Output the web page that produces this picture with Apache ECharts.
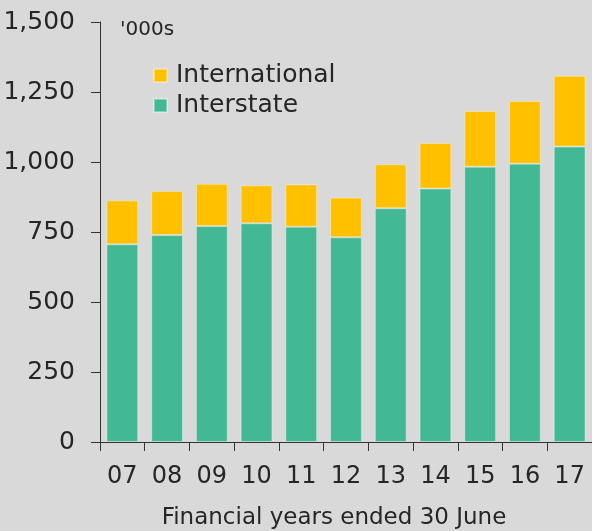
<!DOCTYPE html>
<html>
<head>
<meta charset="utf-8">
<script src="https://cdn.jsdelivr.net/npm/echarts@6/dist/echarts.min.js"></script>
<style>
  html, body { margin: 0; padding: 0; background: #d9d9d9; }
  #main { width: 592px; height: 531px; }
</style>
</head>
<body>
<div id="main"></div>
<script>
var years = ['07', '08', '09', '10', '11', '12', '13', '14', '15', '16', '17'];
var interstate = [706, 739, 771, 781, 769, 731, 835, 905, 983, 994, 1055];
var international = [157, 157, 151, 136, 151, 142, 157, 163, 199, 224, 253];
var yTicks = [0, 250, 500, 750, 1000, 1250, 1500];

var font = 'DejaVu Sans';
var txt = '#262626';

var myChart = echarts.init(document.getElementById('main'));

var option = {
    backgroundColor: '#d9d9d9',
    animation: false,
    textStyle: { fontFamily: font, color: txt },
    grid: { left: 100, top: 22, width: 496, height: 420 },
    legend: {
        orient: 'vertical',
        left: 148,
        top: 58,
        itemWidth: 13,
        itemHeight: 13,
        itemGap: 5,
        icon: 'rect',
        data: ['International', 'Interstate'],
        textStyle: { fontFamily: font, fontSize: 25, color: txt, lineHeight: 25, padding: [0, 0, 0, 4] }
    },
    graphic: [
        { type: 'text', left: 120, top: 20, style: { text: "'000s", font: '20px ' + font, fill: txt } },
        { type: 'text', x: 334, y: 518, style: { text: 'Financial years ended 30 June', font: '23px ' + font, fill: txt, align: 'center', verticalAlign: 'middle' } }
    ],
    xAxis: {
        type: 'category',
        data: years,
        axisLine: { lineStyle: { color: '#333', width: 1 } },
        axisTick: { show: true, length: 9, lineStyle: { color: '#333' } },
        axisLabel: { fontSize: 24, color: txt, margin: 23, fontFamily: font }
    },
    yAxis: {
        type: 'value',
        min: 0,
        max: 1500,
        interval: 250,
        splitLine: { show: false },
        axisLine: { show: true, lineStyle: { color: '#333', width: 1 } },
        axisTick: { show: true, length: 9, lineStyle: { color: '#333' } },
        axisLabel: {
            fontSize: 25, color: txt, margin: 25, fontFamily: font,
            formatter: function (v) { return yTicks.indexOf(v) >= 0 ? v.toLocaleString('en-US') : ''; }
        }
    },
    series: [
        {
            name: 'Interstate',
            type: 'bar',
            stack: 'total',
            barCategoryGap: '29%',
            data: interstate,
            itemStyle: { color: '#42b895', borderColor: 'rgba(255,255,255,0.35)', borderWidth: 1 }
        },
        {
            name: 'International',
            type: 'bar',
            stack: 'total',
            barCategoryGap: '29%',
            data: international,
            itemStyle: { color: '#ffc000', borderColor: 'rgba(255,255,255,0.35)', borderWidth: 1 }
        }
    ]
};

myChart.setOption(option);
</script>
</body>
</html>
